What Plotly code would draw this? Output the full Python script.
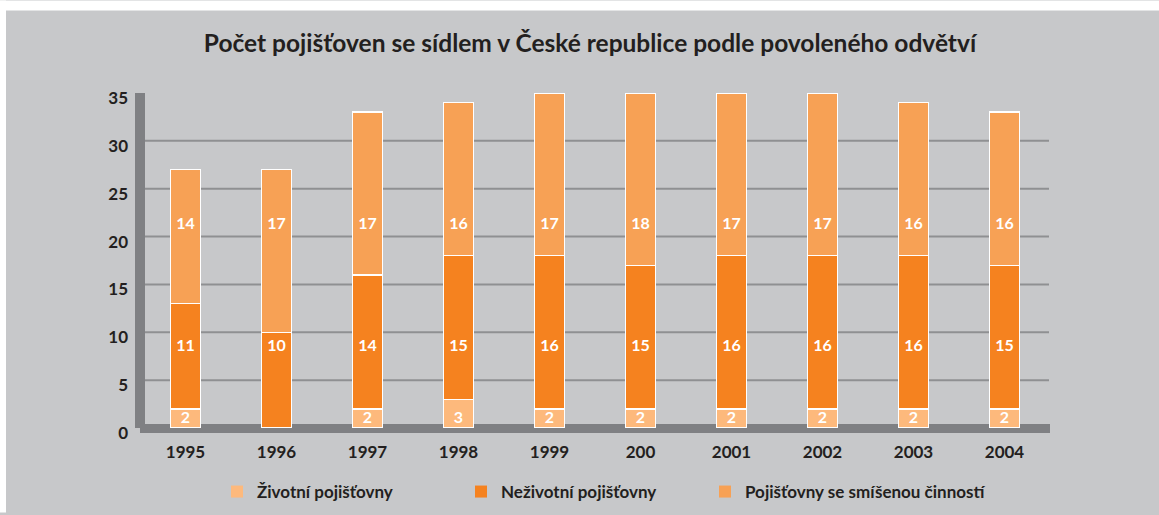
import plotly.graph_objects as go

# ---- data ----
years = ["1995", "1996", "1997", "1998", "1999", "200", "2001", "2002", "2003", "2004"]
zivotni = [2, 0, 2, 3, 2, 2, 2, 2, 2, 2]
nezivotni = [11, 10, 14, 15, 16, 15, 16, 16, 16, 15]
smisene = [14, 17, 17, 16, 17, 18, 17, 17, 16, 16]
series_names = ["Životní pojišťovny", "Neživotní pojišťovny", "Pojišťovny se smíšenou činností"]
y_ticks = [0, 5, 10, 15, 20, 25, 30, 35]
title_text = "Počet pojišťoven se sídlem v České republice podle povoleného odvětví"

# ---- style ----
W, H = 1159, 515
L, R, T, B = 140, 1050, 93, 430
BG = "#c7c8ca"
WALL = "#7f8083"
GRID = "#8f9092"
TXT = "#231f20"
COLORS = ["#fdb97c", "#f5821f", "#f7a155"]
FONT = "Lato"
LABEL_LEVELS = [0.95, 8.5, 21.2]  # fixed vertical positions of value labels (as in original)
LEGEND_TEXT_X = [258, 502, 746]     # pixel start of legend texts
LEGEND_IDS = ["legend", "legend2", "legend3"]


def px_x(px):
    return (px - L) / (R - L)


def px_y(py):
    return (B - py) / (B - T)


fig = go.Figure()
for vals, name, col in zip([zivotni, nezivotni, smisene], series_names, COLORS):
    fig.add_trace(go.Bar(
        x=years, y=vals, name=name, showlegend=False,
        marker=dict(color=col, line=dict(color="white", width=1.5)),
        hoverinfo="skip",
    ))
# legend-only entries (no outline)
for name, col, lid in zip(series_names, COLORS, LEGEND_IDS):
    fig.add_trace(go.Bar(x=[None], y=[None], name=name, legend=lid,
                         marker=dict(color=col, line=dict(width=0))))
# value labels
for vals, lvl in zip([zivotni, nezivotni, smisene], LABEL_LEVELS):
    fig.add_trace(go.Scatter(
        x=years, y=[lvl] * len(years), mode="text",
        text=[str(v) if v else "" for v in vals],
        textfont=dict(family=FONT, size=16, color="white", weight="bold"),
        showlegend=False, hoverinfo="skip",
    ))

shapes = [
    # white margins
    dict(type="rect", xref="paper", yref="paper", x0=px_x(0), x1=px_x(W), y0=px_y(10), y1=px_y(0),
         fillcolor="white", line=dict(width=0), layer="below"),
    dict(type="rect", xref="paper", yref="paper", x0=px_x(0), x1=px_x(6), y0=px_y(H), y1=px_y(0),
         fillcolor="white", line=dict(width=0), layer="below"),
    # wall and floor
    dict(type="rect", xref="paper", yref="paper", x0=px_x(135), x1=px_x(145), y0=px_y(430), y1=px_y(93),
         fillcolor=WALL, line=dict(width=0), layer="below"),
    dict(type="rect", xref="paper", yref="paper", x0=px_x(140), x1=px_x(1050), y0=px_y(435), y1=px_y(426),
         fillcolor=WALL, line=dict(width=0), layer="below"),
]
for t in y_ticks[1:-1]:
    shapes.append(dict(type="line", xref="paper", yref="y", x0=px_x(145), x1=px_x(1049), y0=t, y1=t,
                       line=dict(color=GRID, width=2), layer="below"))

legends = {}
for lid, tx in zip(LEGEND_IDS, LEGEND_TEXT_X):
    legends[lid] = dict(orientation="h", xref="container", yref="container",
                        x=(tx - 41) / W, xanchor="left", y=1 - 492 / H, yanchor="middle",
                        bgcolor="rgba(0,0,0,0)",
                        font=dict(family=FONT, size=17, color=TXT, weight="bold"))

fig.update_layout(
    width=W, height=H,
    margin=dict(l=L, r=W - R, t=T, b=H - B, pad=0),
    paper_bgcolor=BG, plot_bgcolor="rgba(0,0,0,0)",
    barmode="stack", bargap=0.67,
    shapes=shapes,
    title=dict(text=title_text, x=590 / W, xanchor="center", xref="container",
               y=1 - 43 / H, yanchor="middle", yref="container",
               font=dict(family=FONT, size=24.5, color=TXT, weight="bold")),
    xaxis=dict(type="category", showgrid=False, showline=False, zeroline=False,
               tickfont=dict(family=FONT, size=17, color=TXT, weight="bold"),
               ticklabelstandoff=12, fixedrange=True),
    yaxis=dict(range=[0, 35], tickvals=y_ticks, showgrid=False, showline=False, zeroline=False,
               tickfont=dict(family=FONT, size=17, color=TXT, weight="bold"),
               ticklabelstandoff=11, ticklabelshift=5, fixedrange=True),
    showlegend=True,
    **legends,
)

fig.write_html("out.html", config={"displayModeBar": False},
               post_script="document.body.style.margin='0';document.body.style.overflow='hidden';"
                           "document.body.style.background='" + BG + "';"
                           "document.documentElement.style.background='" + BG + "';")
